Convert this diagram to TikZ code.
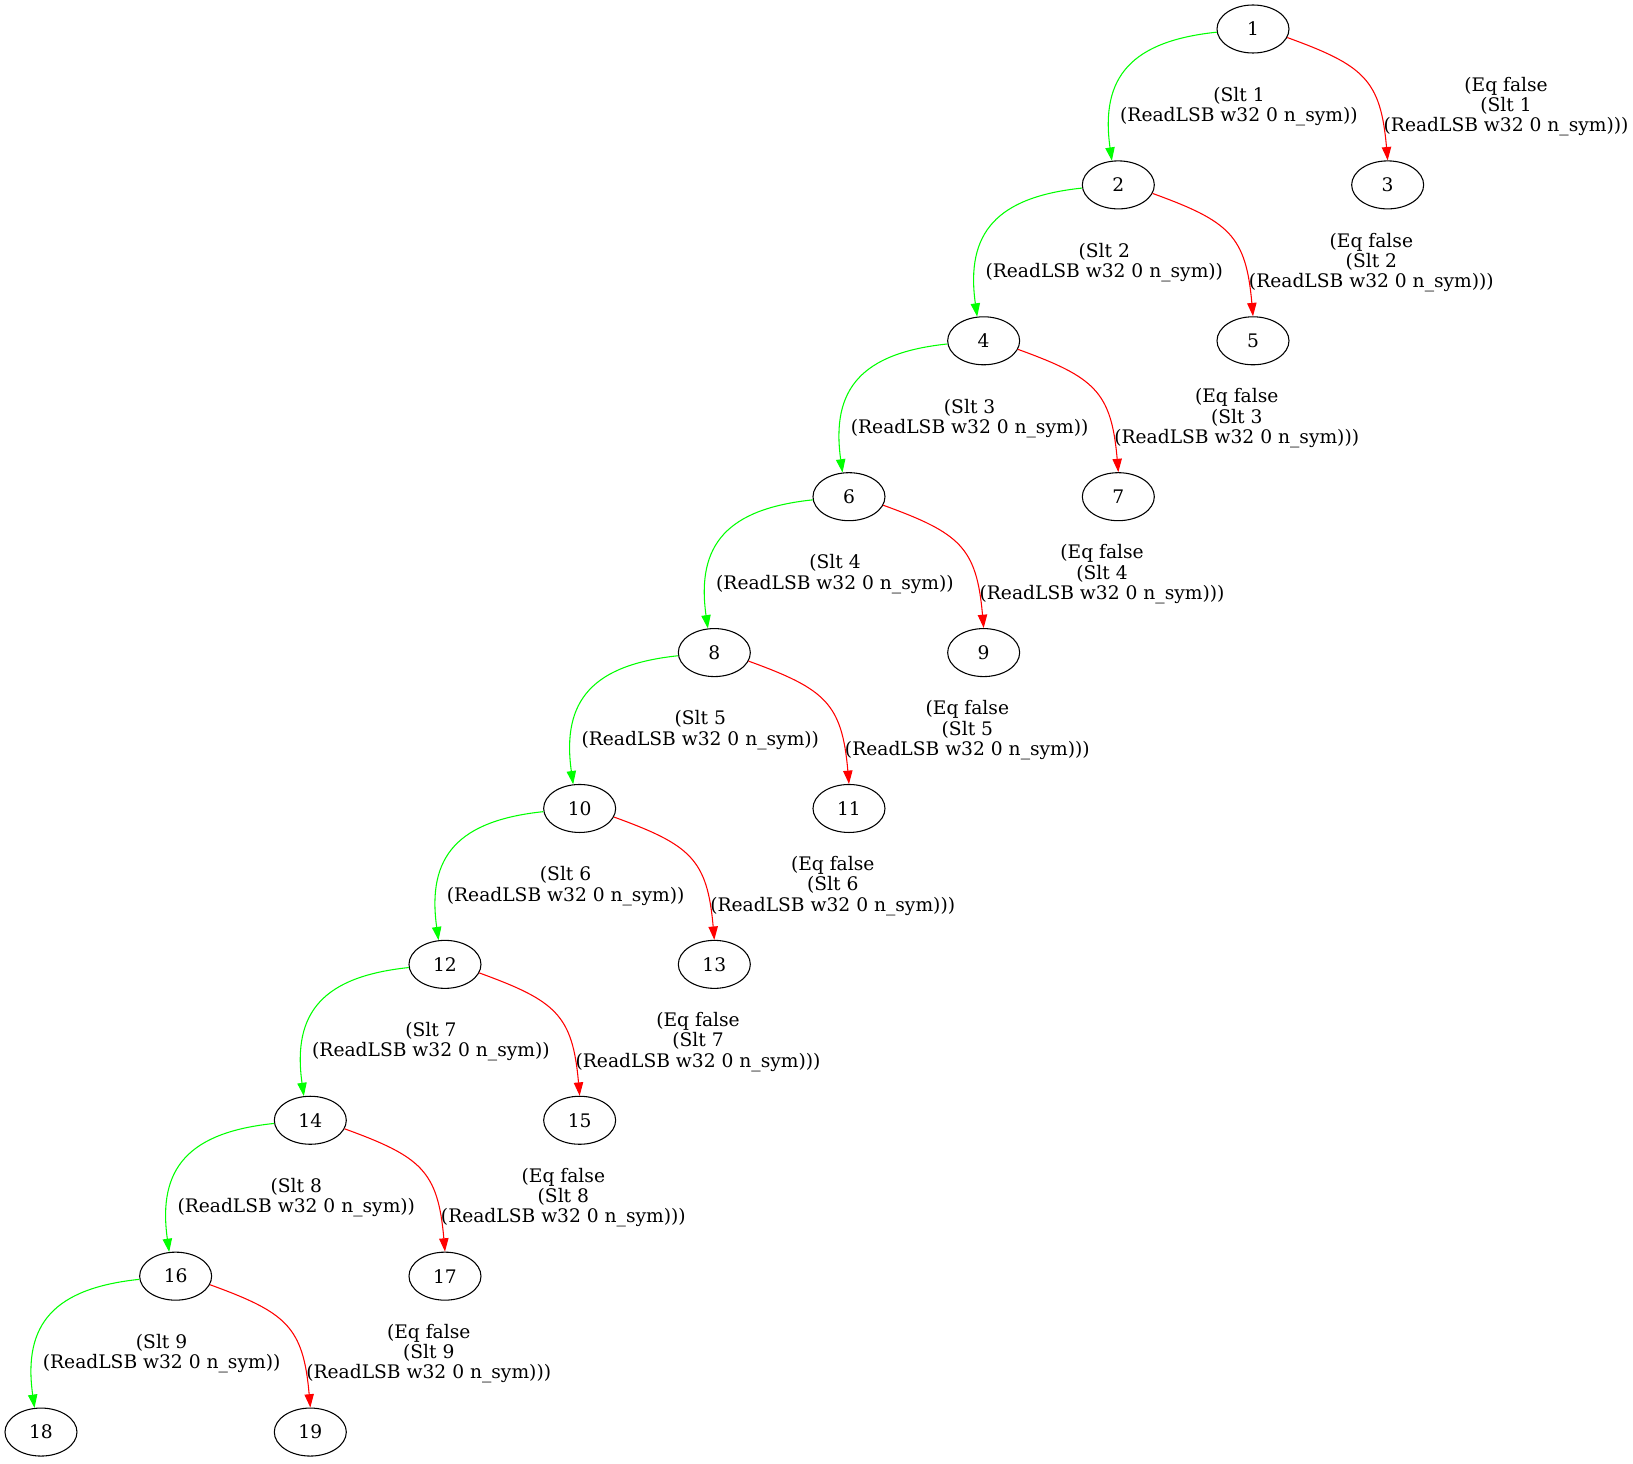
\documentclass[tikz,border=0pt]{standalone}
\usepackage{fontspec}
\setmainfont{DejaVu Serif}
\usetikzlibrary{shapes.geometric,arrows.meta}

\tikzset{
  st/.style={draw=black, text=black, ellipse, line width=0.8pt, minimum width=54pt, minimum height=36pt, inner sep=0pt},
  tedge/.style={edge from parent path={(\tikzparentnode.185) .. controls +(186:64pt) and +(98:64pt) .. (\tikzchildnode.105)},
    edge from parent/.style={draw=green, line width=0.8pt, -{Triangle[length=10pt,width=7pt]}}},
  fedge/.style={edge from parent path={(\tikzparentnode.-14) .. controls +(-20:61pt) and +(95:61pt) .. (\tikzchildnode.north)},
    edge from parent/.style={draw=red, line width=0.8pt, -{Triangle[length=10pt,width=7pt]}}},
  tlab/.style={midway, xshift=83.2pt, yshift=-28.8pt, align=center, inner sep=0pt, text=black},
  flab/.style={midway, xshift=106.95pt, yshift=-20.66pt, align=center, inner sep=0pt, text=black}
}

\begin{document}
\begin{tikzpicture}[font=\fontsize{14pt}{15.2pt}\selectfont]
  \useasboundingbox (-939.75pt,21.75pt) rectangle (285pt,-1075.5pt);
  \begin{scope}
    [level distance=116.92pt,
    sibling distance=202pt]
    \node[st] (n1) {1}
    child[tedge] {node[st] (n2) {2}
      child[tedge] {node[st] (n4) {4}
        child[tedge] {node[st] (n6) {6}
          child[tedge] {node[st] (n8) {8}
            child[tedge] {node[st] (n10) {10}
              child[tedge] {node[st] (n12) {12}
                child[tedge] {node[st] (n14) {14}
                  child[tedge] {node[st] (n16) {16}
                    child[tedge] {node[st] (n18) {18} edge from parent node[tlab] {(Slt 9\\(ReadLSB w32 0 n\_sym))}}
                    child[fedge] {node[st] (n19) {19} edge from parent node[flab] {(Eq false\\(Slt 9\\(ReadLSB w32 0 n\_sym)))}}
                    edge from parent node[tlab] {(Slt 8\\(ReadLSB w32 0 n\_sym))}
                  }
                  child[fedge] {node[st] (n17) {17} edge from parent node[flab] {(Eq false\\(Slt 8\\(ReadLSB w32 0 n\_sym)))}}
                  edge from parent node[tlab] {(Slt 7\\(ReadLSB w32 0 n\_sym))}
                }
                child[fedge] {node[st] (n15) {15} edge from parent node[flab] {(Eq false\\(Slt 7\\(ReadLSB w32 0 n\_sym)))}}
                edge from parent node[tlab] {(Slt 6\\(ReadLSB w32 0 n\_sym))}
              }
              child[fedge] {node[st] (n13) {13} edge from parent node[flab] {(Eq false\\(Slt 6\\(ReadLSB w32 0 n\_sym)))}}
              edge from parent node[tlab] {(Slt 5\\(ReadLSB w32 0 n\_sym))}
            }
            child[fedge] {node[st] (n11) {11} edge from parent node[flab] {(Eq false\\(Slt 5\\(ReadLSB w32 0 n\_sym)))}}
            edge from parent node[tlab] {(Slt 4\\(ReadLSB w32 0 n\_sym))}
          }
          child[fedge] {node[st] (n9) {9} edge from parent node[flab] {(Eq false\\(Slt 4\\(ReadLSB w32 0 n\_sym)))}}
          edge from parent node[tlab] {(Slt 3\\(ReadLSB w32 0 n\_sym))}
        }
        child[fedge] {node[st] (n7) {7} edge from parent node[flab] {(Eq false\\(Slt 3\\(ReadLSB w32 0 n\_sym)))}}
        edge from parent node[tlab] {(Slt 2\\(ReadLSB w32 0 n\_sym))}
      }
      child[fedge] {node[st] (n5) {5} edge from parent node[flab] {(Eq false\\(Slt 2\\(ReadLSB w32 0 n\_sym)))}}
      edge from parent node[tlab] {(Slt 1\\(ReadLSB w32 0 n\_sym))}
    }
    child[fedge] {node[st] (n3) {3} edge from parent node[flab] {(Eq false\\(Slt 1\\(ReadLSB w32 0 n\_sym)))}};
  \end{scope}
\end{tikzpicture}
\end{document}
